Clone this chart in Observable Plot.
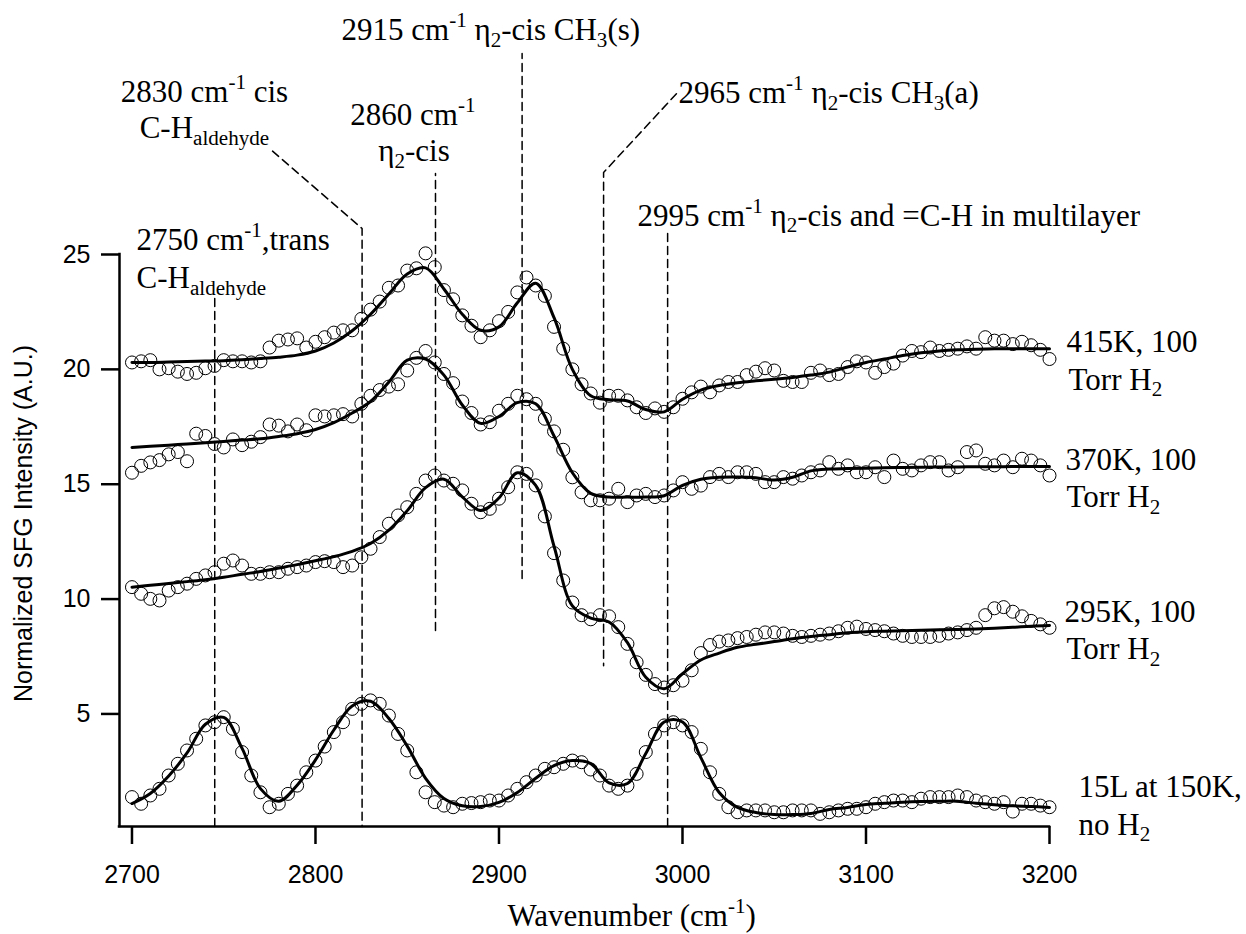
<!DOCTYPE html>
<html><head><meta charset="utf-8">
<script src="https://cdn.jsdelivr.net/npm/d3@7"></script>
<script src="https://cdn.jsdelivr.net/npm/@observablehq/plot@0.6"></script>
<style>
html,body{margin:0;padding:0;background:#fff;}
#chart svg{display:block;}
</style></head><body><div id="chart"></div>
<script>
// ---------- data ----------
const pointWn = [2700,2705,2710,2715,2720,2725,2730,2735,2740,2745,2750,2755,2760,2765,2770,2775,2780,2785,2790,2795,
2800,2805,2810,2815,2820,2825,2830,2835,2840,2845,2850,2855,2860,2865,2870,2875,2880,2885,2890,2895,
2900,2905,2910,2915,2920,2925,2930,2935,2940,2945,2950,2955,2960,2965,2970,2975,2980,2985,2990,2995,
3000,3005,3010,3015,3020,3025,3030,3035,3040,3045,3050,3055,3060,3065,3070,3075,3080,3085,3090,3095,
3100,3105,3110,3115,3120,3125,3130,3135,3140,3145,3150,3155,3160,3165,3170,3175,3180,3185,3190,3195,3200];

const pts415 = [20.3,20.35,20.4,20.0,20.05,19.9,19.8,19.85,20.05,20.15,20.4,20.35,20.35,20.3,20.35,20.95,21.25,21.3,21.35,20.95,
21.2,21.4,21.6,21.7,21.7,22.2,22.6,22.95,23.55,23.65,24.3,24.4,25.05,24.45,23.45,23.05,22.35,21.9,21.4,21.7,
22.1,22.5,23.35,24.0,23.65,23.2,21.85,20.9,20.0,19.35,18.95,18.55,18.85,18.85,18.65,18.35,18.1,18.3,18.15,18.35,
18.72,19.0,19.25,19.0,19.3,19.45,19.45,19.75,19.9,20.05,19.95,19.5,19.45,19.45,19.85,19.95,19.75,19.8,20.1,20.35,
20.3,19.85,20.1,20.25,20.6,20.8,20.75,20.95,20.8,20.85,20.9,21.0,20.9,21.4,21.25,21.25,21.1,21.2,21.05,20.85,20.45];

const pts370 = [15.5,15.8,15.95,16.05,16.3,16.4,16.0,17.2,17.1,16.75,16.6,16.95,16.7,16.85,17.05,17.6,17.55,17.3,17.6,17.35,
18.0,17.95,18.0,18.05,17.95,18.5,18.85,19.1,19.25,19.35,19.95,20.5,20.8,20.3,19.8,19.4,18.6,18.1,17.6,17.7,
18.2,18.5,18.85,18.7,18.5,17.85,17.3,16.5,15.3,14.65,14.3,14.3,14.37,14.8,14.22,14.51,14.58,14.44,14.51,14.73,
15.09,14.8,14.94,15.31,15.45,15.31,15.52,15.52,15.45,15.09,15.09,15.31,15.24,15.38,15.52,15.6,15.96,15.67,15.82,15.52,
15.52,15.74,15.31,16.03,15.67,15.6,15.82,15.96,15.96,15.6,15.74,16.4,16.47,15.89,15.82,16.03,15.74,16.11,16.03,15.82,15.38];

const pts295 = [10.52,10.23,10.01,9.94,10.37,10.52,10.67,10.88,11.03,11.17,11.54,11.68,11.46,11.1,11.1,11.17,11.17,11.32,11.39,11.46,
11.61,11.65,11.61,11.39,11.46,11.82,12.19,12.7,13.28,13.64,14.0,14.58,15.16,15.38,15.16,15.02,14.73,14.15,13.78,13.93,
14.37,14.87,15.52,15.45,14.95,13.6,12.0,10.81,9.85,9.3,9.12,9.3,9.25,8.78,8.05,7.25,6.7,6.3,6.15,6.25,
6.45,6.9,7.65,8.0,8.15,8.2,8.3,8.35,8.45,8.55,8.55,8.5,8.4,8.35,8.4,8.45,8.5,8.6,8.75,8.8,
8.7,8.65,8.6,8.5,8.4,8.35,8.35,8.35,8.4,8.5,8.55,8.65,8.75,9.3,9.6,9.65,9.45,9.25,9.05,8.9,8.75];

const pts15L = [1.38,1.09,1.45,1.74,2.32,2.83,3.41,3.92,4.5,4.64,4.86,4.35,3.34,2.32,1.59,0.94,1.09,1.52,1.88,2.46,
2.97,3.58,4.21,4.64,5.22,5.44,5.59,5.44,4.93,4.13,3.41,2.46,1.59,1.16,1.01,0.94,1.09,1.12,1.16,1.23,
1.23,1.45,1.74,2.03,2.32,2.61,2.68,2.83,2.97,2.9,2.58,2.32,1.88,1.74,1.88,2.39,3.34,4.13,4.5,4.64,
4.5,4.21,3.48,2.46,1.52,0.94,0.72,0.8,0.8,0.8,0.72,0.72,0.8,0.8,0.8,0.65,0.72,0.8,0.87,0.87,
0.94,1.09,1.16,1.23,1.23,1.16,1.31,1.38,1.38,1.38,1.45,1.38,1.23,1.16,1.09,1.16,0.75,1.09,1.09,1.01,0.94];

const fitWn = [2700,2710,2720,2730,2740,2750,2760,2770,2780,2790,2800,2810,2820,2830,2840,2850,2860,2870,2880,2890,
2900,2910,2920,2930,2940,2950,2960,2970,2980,2990,3000,3010,3020,3030,3040,3050,3060,3070,3080,3090,
3100,3110,3120,3130,3140,3150,3160,3170,3180,3190,3200];

const fit415 = [20.3,20.3,20.32,20.34,20.36,20.38,20.42,20.47,20.53,20.62,20.8,21.15,21.68,22.4,23.28,24.15,24.42,23.5,22.4,21.7,
21.85,22.9,23.75,22.25,20.0,18.85,18.68,18.62,18.25,18.15,18.7,19.1,19.3,19.42,19.5,19.57,19.65,19.75,19.88,20.1,
20.3,20.45,20.6,20.72,20.8,20.85,20.88,20.9,20.9,20.9,20.9];

const fit370 = [16.6,16.65,16.7,16.75,16.8,16.86,16.92,16.98,17.08,17.2,17.38,17.68,18.1,18.6,19.45,20.4,20.45,19.75,18.45,17.65,
17.95,18.55,18.5,17.1,15.5,14.6,14.44,14.44,14.44,14.5,14.95,15.22,15.3,15.31,15.28,15.18,15.3,15.58,15.66,15.68,
15.7,15.72,15.73,15.74,15.75,15.75,15.76,15.76,15.77,15.77,15.77];

const fit295 = [10.52,10.6,10.68,10.76,10.84,10.95,11.08,11.2,11.35,11.5,11.67,11.85,12.08,12.42,13.0,13.85,14.85,15.22,14.45,13.86,
14.4,15.5,14.95,12.3,9.7,9.17,9.0,8.1,6.6,6.1,6.75,7.35,7.65,7.9,8.03,8.15,8.27,8.37,8.45,8.53,
8.58,8.6,8.62,8.64,8.66,8.68,8.7,8.73,8.77,8.82,8.85];

const fit15L = [1.1,1.54,2.3,3.3,4.55,4.85,3.5,1.75,1.2,1.9,3.0,4.3,5.35,5.55,4.8,3.6,2.2,1.32,1.0,0.97,
1.15,1.58,2.2,2.75,2.97,2.84,2.0,1.97,3.28,4.65,4.65,3.1,1.58,0.93,0.71,0.62,0.62,0.67,0.84,0.93,
1.06,1.11,1.16,1.19,1.2,1.2,1.11,1.05,1.0,0.97,0.93];

const seriesNames = ["415K", "370K", "295K", "15L"];

// dashed guide lines (wavenumber, intensity)
const guideNames = ["2750", "2830", "2860", "2915", "2965", "2995"];
const guideWn = [[2745.1, 2745.1], [2776.6, 2825.4, 2825.4], [2865.4, 2865.4], [2912.6, 2912.6], [2996.7, 2957.0, 2957.0], [2991.9, 2991.9]];
const guideV  = [[0.1, 23.2], [29.5, 26.13, 0.1], [8.63, 28.53], [10.9, 33.75], [32.0, 28.57, 7.1], [0.1, 26.13]];

// annotation labels
const noteText = [
  "2915 cm^{-1} η_{2}-cis CH_{3}(s)",
  "2830 cm^{-1} cis", "C-H_{aldehyde}",
  "2860 cm^{-1}", "η_{2}-cis",
  "2965 cm^{-1} η_{2}-cis CH_{3}(a)",
  "2995 cm^{-1} η_{2}-cis and =C-H in multilayer",
  "2750 cm^{-1},trans", "C-H_{aldehyde}",
  "415K, 100", "Torr H_{2}",
  "370K, 100", "Torr H_{2}",
  "295K, 100", "Torr H_{2}",
  "15L at 150K,", "no H_{2}"
];
const noteWn = [2814.2, 2739.5, 2739.5, 2853.1, 2853.7, 2997.8, 2975.5, 2702.5, 2702.5,
  3209.3, 3210.4, 3208.7, 3209.3, 3208.2, 3209.3, 3215.8, 3215.8];
const noteV = [34.32, 31.66, 30.05, 30.62, 29.05, 31.58, 26.26, 25.18, 23.52,
  20.75, 19.12, 15.64, 13.99, 8.99, 7.37, 1.38, -0.25];
const noteAnchor = ["start", "middle", "middle", "middle", "middle", "start", "start", "start", "start",
  "start", "start", "start", "start", "start", "start", "start", "start"];

const xTicks = [2700, 2800, 2900, 3000, 3100, 3200];
const yTicks = [5, 10, 15, 20, 25];
const xTitle = "Wavenumber (cm^{-1})";
const yTitle = "Normalized SFG Intensity (A.U.)";

// ---------- tables ----------
const seriesPts = [pts415, pts370, pts295, pts15L];
const seriesFit = [fit415, fit370, fit295, fit15L];
const pointRows = seriesNames.flatMap((s, k) => pointWn.map((w, i) => ({s, wn: w, v: seriesPts[k][i]})));
const fitRows = seriesNames.flatMap((s, k) => fitWn.map((w, i) => ({s, wn: w, v: seriesFit[k][i]})));
const guideRows = guideNames.flatMap((g, k) => guideWn[k].map((w, i) => ({g, wn: w, v: guideV[k][i]})));
const noteRows = noteText.map((t, i) => ({t, wn: noteWn[i], v: noteV[i], a: noteAnchor[i]}));

const SERIF = "'Liberation Serif', 'Times New Roman', Times, serif";
const SANS = "'Liberation Sans', Arial, Helvetica, sans-serif";
const FS = 31;

const chart = Plot.plot({
  width: 1246, height: 934,
  marginLeft: 119, marginRight: 197, marginTop: 254, marginBottom: 108,
  x: {domain: [2693.2, 3200]},
  y: {domain: [0.1, 25]},
  style: {fontFamily: SANS, fontSize: "25px", color: "black", background: "white", overflow: "visible"},
  marks: [
    Plot.line(guideRows, {x: "wn", y: "v", z: "g", stroke: "black", strokeWidth: 1.5, strokeDasharray: "8,5"}),
    Plot.dot(pointRows, {x: "wn", y: "v", r: 6.5, stroke: "black", strokeWidth: 1, fill: "none"}),
    Plot.line(fitRows, {x: "wn", y: "v", z: "s", stroke: "black", strokeWidth: 3, curve: "catmull-rom"}),
    Plot.ruleY([0.1], {stroke: "black", strokeWidth: 2.5, strokeLinecap: "square"}),
    Plot.ruleX([2693.2], {stroke: "black", strokeWidth: 2.5, strokeLinecap: "square"}),
    Plot.axisX({ticks: xTicks, tickSize: 18, tickPadding: 21, tickFormat: d => String(d), label: null,
      strokeWidth: 2.5, fontSize: 25, fontFamily: SANS}),
    Plot.axisY({ticks: yTicks, tickSize: 18, tickPadding: 11, tickFormat: d => String(d), label: null,
      strokeWidth: 2.5, fontSize: 25, fontFamily: SANS}),
    Plot.text(noteRows.filter(d => d.a === "start"), {x: "wn", y: "v", text: "t", textAnchor: "start",
      lineAnchor: "bottom", fontFamily: SERIF, fontSize: FS, fill: "black"}),
    Plot.text(noteRows.filter(d => d.a === "middle"), {x: "wn", y: "v", text: "t", textAnchor: "middle",
      lineAnchor: "bottom", fontFamily: SERIF, fontSize: FS, fill: "black"}),
    Plot.text([xTitle], {x: () => 2972.3, y: () => -4.25, text: d => d, textAnchor: "middle",
      lineAnchor: "bottom", fontFamily: SERIF, fontSize: FS, fill: "black"}),
    Plot.text([yTitle], {x: () => 2641.4, y: () => 13.29, text: d => d, rotate: -90, textAnchor: "middle",
      lineAnchor: "middle", fontFamily: SANS, fontSize: 25, fill: "black"})
  ]
});

// turn ^{..} and _{..} into real superscript / subscript tspans
function richify(el, fs) {
  const s = el.textContent;
  const re = /([\^_])\{([^}]*)\}/g;
  const parts = [];
  let last = 0, m;
  while ((m = re.exec(s))) {
    if (m.index > last) parts.push(["n", s.slice(last, m.index)]);
    parts.push([m[1] === "^" ? "sup" : "sub", m[2]]);
    last = re.lastIndex;
  }
  if (last < s.length) parts.push(["n", s.slice(last)]);
  el.textContent = "";
  let shift = 0;
  for (const [k, t] of parts) {
    const ts = document.createElementNS("http://www.w3.org/2000/svg", "tspan");
    ts.textContent = t;
    let target = 0;
    if (k === "sup") { target = -0.42 * fs; ts.setAttribute("font-size", (0.68 * fs).toFixed(1)); }
    if (k === "sub") { target = 0.2 * fs; ts.setAttribute("font-size", (0.68 * fs).toFixed(1)); }
    const dy = target - shift;
    if (dy !== 0) ts.setAttribute("dy", dy.toFixed(1));
    shift = target;
    el.appendChild(ts);
  }
}
chart.querySelectorAll("text").forEach(el => {
  if (/[\^_]\{/.test(el.textContent)) richify(el, FS);
});

document.getElementById("chart").appendChild(chart);
</script>
</body></html>
